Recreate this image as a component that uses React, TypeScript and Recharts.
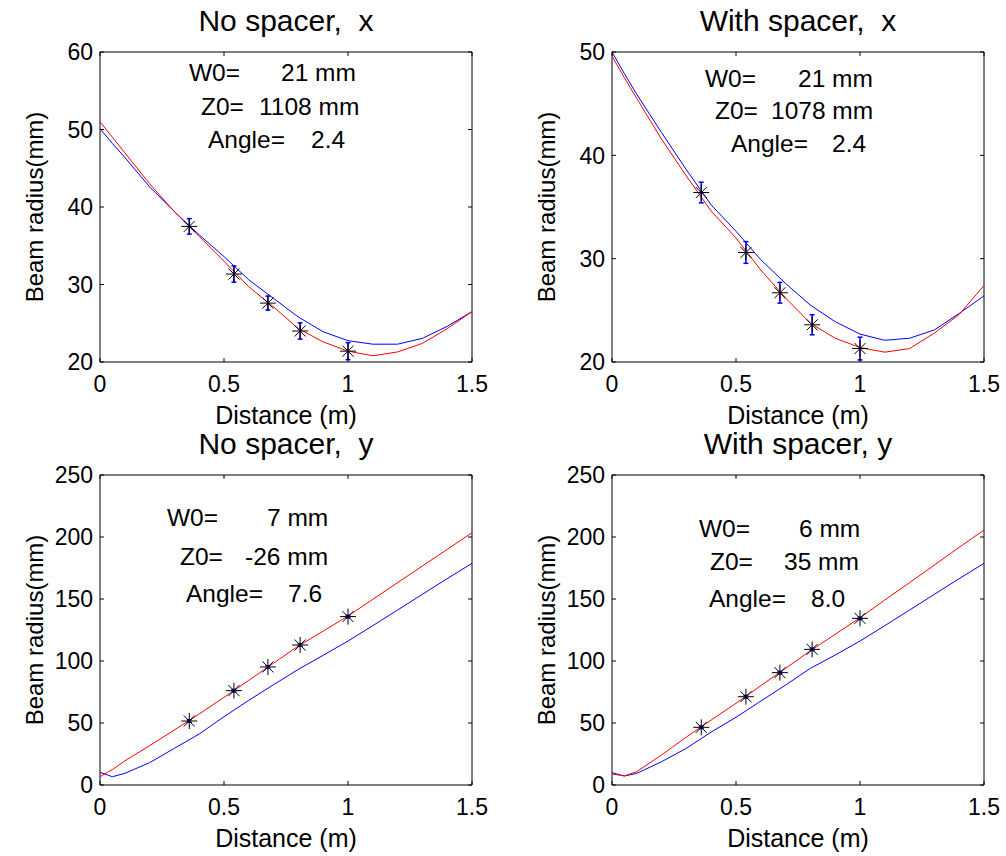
import React from 'react';
import { ComposedChart, Line, Scatter, XAxis, YAxis, ErrorBar, ReferenceArea } from 'recharts';

// ---------- data ----------
const distance = [0, 0.05, 0.1, 0.2, 0.3, 0.4, 0.5, 0.6, 0.7, 0.8, 0.9, 1.0, 1.1, 1.2, 1.3, 1.4, 1.5];

const noSpacerXRed = [51.0, 49.0, 47.0, 43.0, 39.4, 36.2, 33.0, 29.7, 27.1, 24.3, 22.6, 21.4, 20.8, 21.3, 22.4, 24.3, 26.5];
const noSpacerXBlue = [50.1, 48.2, 46.4, 42.6, 39.4, 36.4, 33.6, 30.6, 28.2, 25.8, 23.9, 22.75, 22.3, 22.3, 23.05, 24.6, 26.5];
const withSpacerXRed = [49.6, 47.5, 45.5, 41.55, 38.0, 34.6, 32.0, 28.9, 26.2, 23.75, 22.3, 21.4, 20.95, 21.3, 22.8, 24.6, 27.4];
const withSpacerXBlue = [50.0, 47.9, 45.9, 42.2, 38.6, 35.2, 32.65, 29.9, 27.6, 25.5, 23.9, 22.7, 22.1, 22.3, 23.1, 24.7, 26.4];
const noSpacerYRed = [6.7, 12.5, 19.4, 31.7, 44.4, 57.3, 70.7, 84.4, 98.3, 112.1, 124.1, 136.3, 149.7, 163.2, 176.6, 190.0, 203.5];
const noSpacerYBlue = [10.2, 6.7, 9.4, 18.0, 29.6, 41.1, 55.1, 68.3, 80.9, 93.3, 104.6, 116.1, 128.5, 141.1, 153.8, 166.4, 178.8];
const withSpacerYRed = [8.9, 7.3, 10.8, 24.2, 38.7, 52.4, 65.9, 80.1, 94.1, 108.3, 121.5, 134.9, 149.2, 163.2, 177.4, 191.7, 205.6];
const withSpacerYBlue = [9.9, 7.3, 9.4, 18.8, 29.6, 42.7, 54.6, 67.7, 80.6, 94.1, 104.8, 116.1, 128.5, 141.1, 153.8, 166.4, 178.8];

const measuredDistance = [0.36, 0.54, 0.677, 0.807, 1.0];
const noSpacerXMeasured = [37.5, 31.35, 27.6, 24.0, 21.4];
const noSpacerXError = [1.0, 1.05, 0.9, 1.05, 1.1];
const withSpacerXMeasured = [36.4, 30.6, 26.7, 23.6, 21.3];
const withSpacerXError = [1.0, 1.05, 1.0, 0.97, 1.1];
const noSpacerYMeasured = [51.6, 76.1, 95.2, 112.9, 135.8];
const noSpacerYError = [1, 1, 1, 1, 1];
const withSpacerYMeasured = [46.5, 71.2, 90.6, 109.4, 134.4];
const withSpacerYError = [1, 1, 1, 1, 1];

const xTicks = [0, 0.5, 1, 1.5];
const yTicksNoSpacerX = [20, 30, 40, 50, 60];
const yTicksWithSpacerX = [20, 30, 40, 50];
const yTicksY = [0, 50, 100, 150, 200, 250];

const titles = ['No spacer,  x', 'With spacer,  x', 'No spacer,  y', 'With spacer, y'];
const xLabel = 'Distance (m)';
const yLabel = 'Beam radius(mm)';

const fitNoSpacerX = [['W0=', '21 mm'], ['Z0=', '1108 mm'], ['Angle=', '2.4']];
const fitWithSpacerX = [['W0=', '21 mm'], ['Z0=', '1078 mm'], ['Angle=', '2.4']];
const fitNoSpacerY = [['W0=', '7 mm'], ['Z0=', '-26 mm'], ['Angle=', '7.6']];
const fitWithSpacerY = [['W0=', '6 mm'], ['Z0=', '35 mm'], ['Angle=', '8.0']];

// ---------- layout ----------
const FONT = "'Liberation Sans', Arial, Helvetica, sans-serif";
const PW = 503;
const PH = 433;
const PLOT = { left: 100, right: 472, top: 52, bottom: 362 };

// label x, value x, baseline y (panel coordinates)
const annoLayout = [
  [[189, 281, 81], [201, 259, 115], [208, 311, 148]],
  [[193, 286, 87], [203, 259, 119], [219, 320, 152]],
  [[167, 267, 103], [180, 245, 142], [186, 288, 179]],
  [[187, 287, 114], [198, 272, 147], [197, 299, 184]],
];

function XTick(props: any) {
  const { x, payload } = props;
  return (
    <g>
      <line x1={x} y1={PLOT.bottom} x2={x} y2={PLOT.bottom - 4} stroke="#000" strokeWidth={1} />
      <line x1={x} y1={PLOT.top} x2={x} y2={PLOT.top + 4} stroke="#000" strokeWidth={1} />
      <text x={x} y={PLOT.bottom + 30} textAnchor="middle" fontSize={23} fontFamily={FONT} fill="#000">
        {String(payload.value)}
      </text>
    </g>
  );
}

function YTick(props: any) {
  const { y, payload } = props;
  return (
    <g>
      <line x1={PLOT.left} y1={y} x2={PLOT.left + 4} y2={y} stroke="#000" strokeWidth={1} />
      <line x1={PLOT.right} y1={y} x2={PLOT.right - 4} y2={y} stroke="#000" strokeWidth={1} />
      <text x={PLOT.left - 7} y={y + 8.2} textAnchor="end" fontSize={23} fontFamily={FONT} fill="#000">
        {String(payload.value)}
      </text>
    </g>
  );
}

function Asterisk(props: any) {
  const { cx, cy } = props;
  const r = 8;
  const d = 5.5;
  return (
    <g stroke="#000" strokeWidth={1}>
      <line x1={cx - r} y1={cy} x2={cx + r} y2={cy} />
      <line x1={cx} y1={cy - r} x2={cx} y2={cy + r} />
      <line x1={cx - d} y1={cy - d} x2={cx + d} y2={cy + d} />
      <line x1={cx - d} y1={cy + d} x2={cx + d} y2={cy - d} />
    </g>
  );
}

type PanelProps = {
  left: number;
  top: number;
  title: string;
  red: number[];
  blue: number[];
  measured: number[];
  errors: number[];
  yDomain: [number, number];
  yTicks: number[];
  fit: string[][];
  anno: number[][];
};

const preStyle: React.CSSProperties = { whiteSpace: 'pre' };

function Panel(p: PanelProps) {
  const curveData = distance.map((x, i) => ({ x, red: p.red[i], blue: p.blue[i] }));
  const pointData = measuredDistance.map((x, i) => ({ x, w: p.measured[i], err: p.errors[i] }));
  const cy = (PLOT.top + PLOT.bottom) / 2;
  return (
    <div style={{ position: 'absolute', left: p.left, top: p.top, width: PW, height: PH }}>
      <ComposedChart
        width={PW}
        height={PH}
        data={curveData}
        margin={{ top: PLOT.top, right: PW - PLOT.right, left: PLOT.left - 60, bottom: PH - PLOT.bottom - 30 }}
      >
        <XAxis
          type="number"
          dataKey="x"
          domain={[0, 1.5]}
          ticks={xTicks}
          interval={0}
          allowDataOverflow
          axisLine={false}
          tickLine={false}
          tickSize={0}
          tickMargin={0}
          height={30}
          tick={<XTick />}
        />
        <YAxis
          type="number"
          domain={p.yDomain}
          ticks={p.yTicks}
          interval={0}
          allowDataOverflow
          axisLine={false}
          tickLine={false}
          tickSize={0}
          tickMargin={0}
          width={60}
          tick={<YTick />}
        />
        <ReferenceArea
          x1={0}
          x2={1.5}
          y1={p.yDomain[0]}
          y2={p.yDomain[1]}
          fill="none"
          fillOpacity={0}
          stroke="#000"
          strokeWidth={1}
          strokeOpacity={1}
          ifOverflow="visible"
        />
        <Line type="linear" dataKey="blue" stroke="#0000ff" strokeWidth={1} dot={false} isAnimationActive={false} />
        <Line type="linear" dataKey="red" stroke="#ff0000" strokeWidth={1} dot={false} isAnimationActive={false} />
        <Scatter data={pointData} dataKey="w" shape={<Asterisk />} isAnimationActive={false}>
          <ErrorBar dataKey="err" direction="y" stroke="#0000ff" strokeWidth={1.5} width={2.5} isAnimationActive={false} />
        </Scatter>
      </ComposedChart>
      <svg
        width={PW}
        height={PH}
        style={{ position: 'absolute', left: 0, top: 0, pointerEvents: 'none' }}
        fontFamily={FONT}
      >
        <text x={(PLOT.left + PLOT.right) / 2} y={31} textAnchor="middle" fontSize={30} fill="#000" xmlSpace="preserve" style={preStyle}>
          {p.title}
        </text>
        <text x={(PLOT.left + PLOT.right) / 2} y={424} textAnchor="middle" fontSize={25} fill="#000">
          {xLabel}
        </text>
        <text x={43} y={cy} textAnchor="middle" fontSize={24} fill="#000" transform={`rotate(-90 43 ${cy})`}>
          {yLabel}
        </text>
        {p.fit.map((f, i) => (
          <g key={i}>
            <text x={p.anno[i][0]} y={p.anno[i][2]} fontSize={24.5} fill="#000">
              {f[0]}
            </text>
            <text x={p.anno[i][1]} y={p.anno[i][2]} fontSize={24.5} fill="#000">
              {f[1]}
            </text>
          </g>
        ))}
      </svg>
    </div>
  );
}

export default function App() {
  return (
    <div style={{ position: 'absolute', left: 0, top: 0, width: 1006, height: 856, background: '#fff' }}>
      <Panel
        left={0}
        top={0}
        title={titles[0]}
        red={noSpacerXRed}
        blue={noSpacerXBlue}
        measured={noSpacerXMeasured}
        errors={noSpacerXError}
        yDomain={[20, 60]}
        yTicks={yTicksNoSpacerX}
        fit={fitNoSpacerX}
        anno={annoLayout[0]}
      />
      <Panel
        left={512}
        top={0}
        title={titles[1]}
        red={withSpacerXRed}
        blue={withSpacerXBlue}
        measured={withSpacerXMeasured}
        errors={withSpacerXError}
        yDomain={[20, 50]}
        yTicks={yTicksWithSpacerX}
        fit={fitWithSpacerX}
        anno={annoLayout[1]}
      />
      <Panel
        left={0}
        top={423}
        title={titles[2]}
        red={noSpacerYRed}
        blue={noSpacerYBlue}
        measured={noSpacerYMeasured}
        errors={noSpacerYError}
        yDomain={[0, 250]}
        yTicks={yTicksY}
        fit={fitNoSpacerY}
        anno={annoLayout[2]}
      />
      <Panel
        left={512}
        top={423}
        title={titles[3]}
        red={withSpacerYRed}
        blue={withSpacerYBlue}
        measured={withSpacerYMeasured}
        errors={withSpacerYError}
        yDomain={[0, 250]}
        yTicks={yTicksY}
        fit={fitWithSpacerY}
        anno={annoLayout[3]}
      />
    </div>
  );
}
